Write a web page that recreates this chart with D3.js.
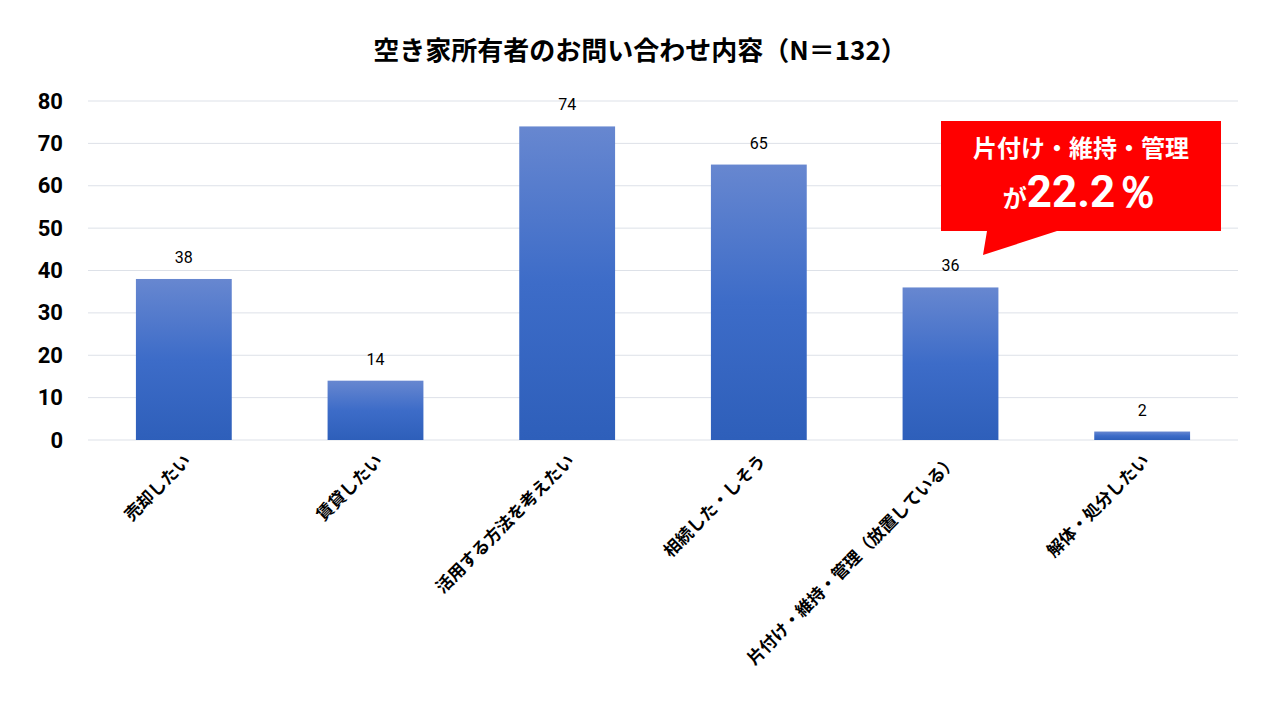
<!DOCTYPE html>
<html><head><meta charset="utf-8">
<script src="https://cdn.jsdelivr.net/npm/d3@7"></script>
<style>body{margin:0;background:#fff;font-family:"Noto Sans CJK JP","Noto Sans",sans-serif;}</style>
</head><body>
<svg id="chart" width="1280" height="720"></svg>
<script>
const categories = ["売却したい", "賃貸したい", "活用する方法を考えたい", "相続した・しそう", "片付け・維持・管理（放置している）", "解体・処分したい"];
const values = [38, 14, 74, 65, 36, 2];
const yTicks = [0, 10, 20, 30, 40, 50, 60, 70, 80];

const svg = d3.select("#chart");
const margin = { top: 101, right: 42, bottom: 280, left: 88 };
const W = 1280, H = 720;

const x = d3.scaleBand().domain(categories).range([margin.left, W - margin.right]).paddingInner(0.5).paddingOuter(0.25);
const y = d3.scaleLinear().domain([0, 80]).range([H - margin.bottom, margin.top]);

const grad = svg.append("defs").append("linearGradient")
  .attr("id", "barGrad").attr("x1", 0).attr("y1", 0).attr("x2", 0).attr("y2", 1);
grad.append("stop").attr("offset", "0%").attr("stop-color", "#6787d0");
grad.append("stop").attr("offset", "50%").attr("stop-color", "#3d6cc8");
grad.append("stop").attr("offset", "100%").attr("stop-color", "#2e5fba");

// title
svg.append("text").attr("x", 640).attr("y", 60).attr("text-anchor", "middle")
  .attr("font-size", 26).attr("font-weight", "bold").attr("fill", "#000")
  .text("空き家所有者のお問い合わせ内容（N＝132）");

// grid
svg.append("g").selectAll("line").data(yTicks).join("line")
  .attr("x1", margin.left).attr("x2", W - margin.right)
  .attr("y1", d => y(d)).attr("y2", d => y(d))
  .attr("stroke", "#dde1e8").attr("stroke-width", 1);

// y axis
const yAxis = svg.append("g").attr("transform", `translate(${margin.left - 22},0)`)
  .call(d3.axisLeft(y).tickValues(yTicks).tickSize(0));
yAxis.select(".domain").remove();
yAxis.selectAll("text").attr("font-size", 22).attr("font-weight", "bold").attr("fill", "#000")
  .attr("font-family", "Roboto, 'Noto Sans', sans-serif").attr("text-anchor", "end").attr("dx", 0);

// bars
svg.append("g").selectAll("rect").data(values).join("rect")
  .attr("x", (d, i) => x(categories[i])).attr("width", x.bandwidth())
  .attr("y", d => y(d)).attr("height", d => y(0) - y(d))
  .attr("fill", "url(#barGrad)");

// value labels
svg.append("g").selectAll("text").data(values).join("text")
  .attr("x", (d, i) => x(categories[i]) + x.bandwidth() / 2)
  .attr("y", d => y(d) - 16).attr("text-anchor", "middle")
  .attr("font-size", 16).attr("font-family", "Roboto, 'Noto Sans', sans-serif").attr("fill", "#000")
  .text(d => d);

// x labels
svg.append("g").selectAll("text").data(categories).join("text")
  .attr("transform", d => `translate(${x(d) + x.bandwidth() / 2 + 8},${y(0) + 22}) rotate(-45)`)
  .attr("text-anchor", "end").attr("font-size", 17).attr("font-weight", "bold").attr("fill", "#000")
  .text(d => d);

// callout
const co = svg.append("g");
co.append("path").attr("d", "M941,121 H1221 V231 H1057 L983,255 L987,231 H941 Z").attr("fill", "#ff0000");
co.append("text").attr("x", 1081).attr("y", 157).attr("text-anchor", "middle")
  .attr("font-size", 24).attr("font-weight", "bold").attr("fill", "#fff").text("片付け・維持・管理");
const t2 = co.append("text").attr("x", 1081).attr("y", 207).attr("text-anchor", "middle").attr("fill", "#fff").attr("font-weight", "bold");
t2.append("tspan").attr("font-size", 24).text("が");
t2.append("tspan").attr("font-size", 44).attr("font-family", "Roboto, 'Noto Sans', sans-serif").text("22.2％");
</script>
</body></html>
